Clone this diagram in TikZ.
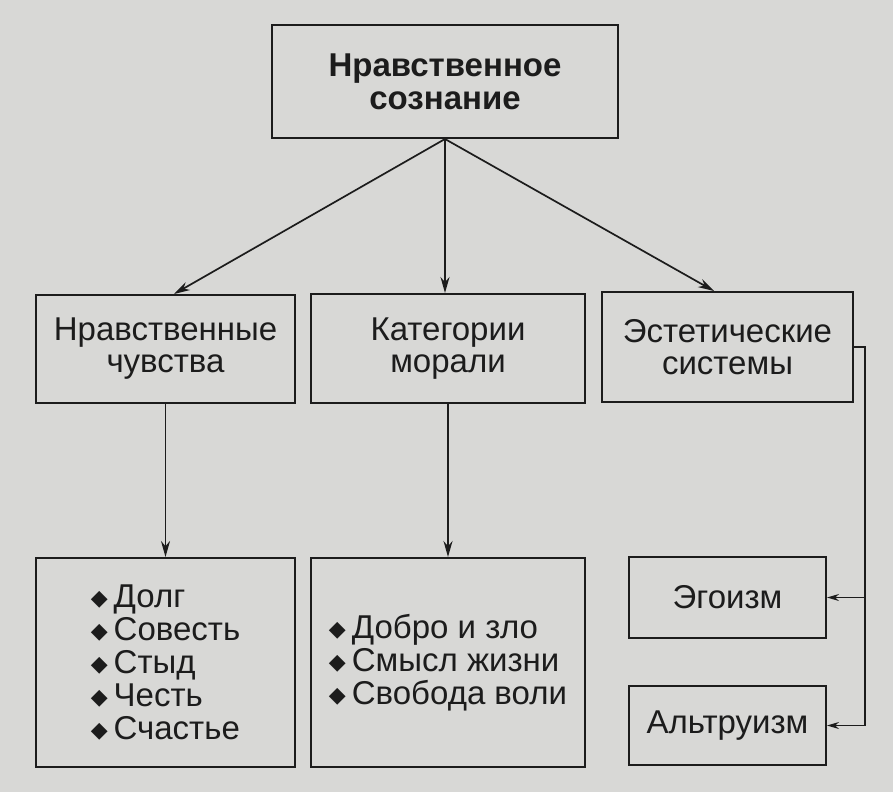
\documentclass[tikz,border=0pt]{standalone}
\usepackage{fontspec}
\setmainfont{Liberation Sans}
\newfontfamily\symfont{DejaVu Sans}
\usetikzlibrary{arrows.meta}
\definecolor{paper}{RGB}{216,216,214}
\definecolor{ink}{RGB}{28,28,28}
\newcommand{\itm}{{\symfont\fontsize{22}{22}\selectfont\raisebox{2pt}{◆}}\hspace{6pt}}
\tikzset{
  box/.style={draw=ink, line width=2pt, inner sep=0pt, align=center, text=ink,
    font=\fontsize{33}{32}\selectfont},
  lst/.style={box, align=left, font=\fontsize{33}{33}\selectfont},
  arr/.style={draw=ink, line width=1.7pt, -{Stealth[length=16pt,width=9pt]}},
  thinarr/.style={draw=ink, line width=1.3pt, -{Stealth[length=12pt,width=7pt]}}
}
\begin{document}
\begin{tikzpicture}[x=1pt,y=-1pt]
  \fill[paper] (0,0) rectangle (893,792);
  \useasboundingbox (0,0) rectangle (893,792);
  % top
  \node[box, minimum width=346pt, minimum height=113pt, font=\bfseries\fontsize{33}{33}\selectfont] (nrav) at (445,81.5) {Нравственное\\сознание};
  % second row
  \node[box, minimum width=259pt, minimum height=108pt] (chuv) at (165.5,349) {Нравственные\\чувства};
  \node[box, minimum width=274pt, minimum height=109pt] (kat) at (448,348.5) {Категории\\морали};
  \node[box, minimum width=251pt, minimum height=110pt] (est) at (727.5,347) {Эстетические\\системы};
  % third row
  \node[lst, minimum width=259pt, minimum height=209pt] (chuvl) at (165.5,662.5)
    {\itm Долг\\\itm Совесть\\\itm Стыд\\\itm Честь\\\itm Счастье};
  \node[lst, minimum width=274pt, minimum height=209pt] (katl) at (448,662.5)
    {\itm Добро и зло\\\itm Смысл жизни\\\itm Свобода воли};
  \node[box, minimum width=197pt, minimum height=81pt] (ego) at (727.5,597.5) {Эгоизм};
  \node[box, minimum width=197pt, minimum height=79pt] (alt) at (727.5,725.5) {Альтруизм};
  \coordinate (rail) at (865,347);
  % arrows
  \draw[arr] (nrav.south) -- ([xshift=8.5pt]chuv.north);
  \draw[arr] (nrav.south) -- ([xshift=-3pt]kat.north);
  \draw[arr] (nrav.south) -- ([xshift=-13.5pt]est.north);
  \draw[arr] (chuv.south) -- (chuvl.north);
  \draw[arr] (kat.south) -- (katl.north);
  \draw[thinarr] (est.east) -- (rail) |- (alt.east);
  \draw[thinarr] (rail |- ego.east) -- (ego.east);
\end{tikzpicture}
\end{document}
